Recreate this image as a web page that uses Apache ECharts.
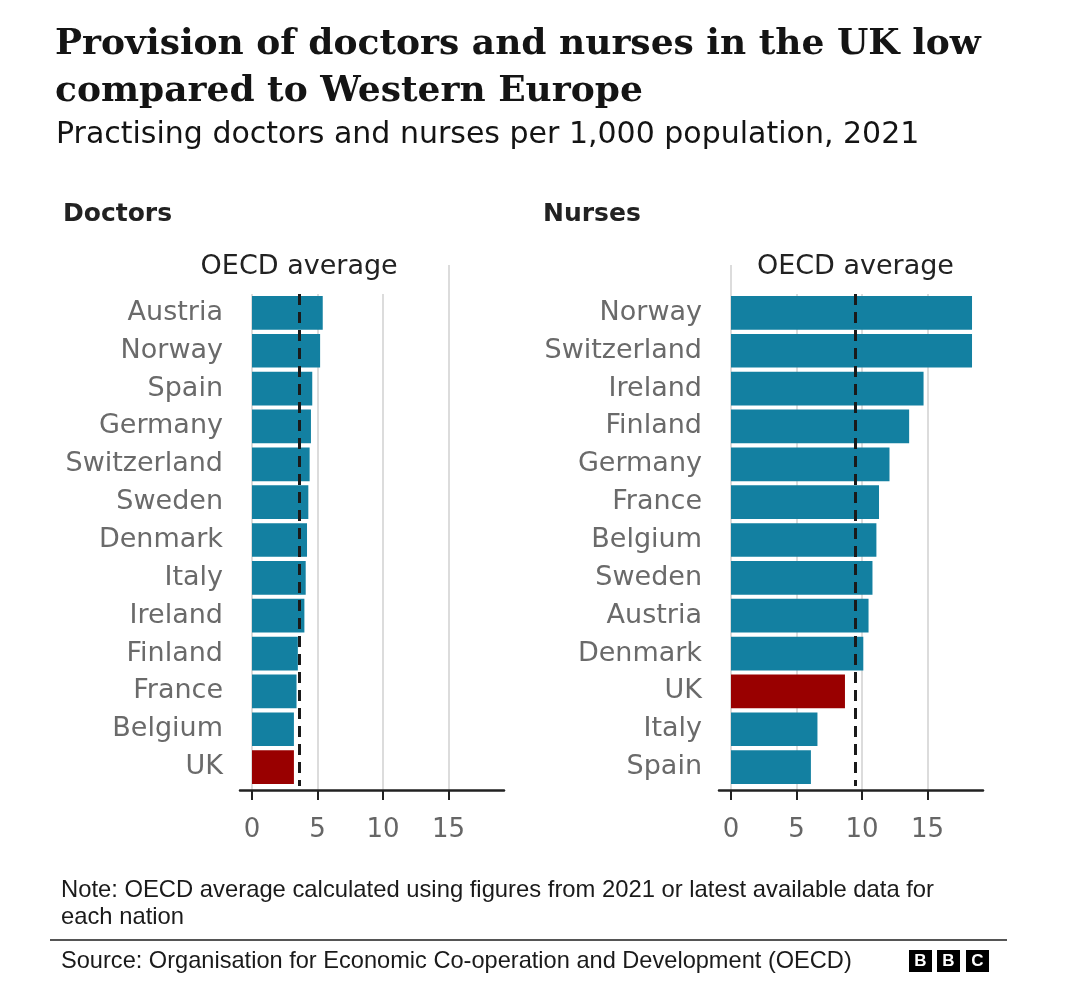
<!DOCTYPE html>
<html>
<head>
<meta charset="utf-8">
<script src="https://cdn.jsdelivr.net/npm/echarts@6/dist/echarts.min.js"></script>
<style>
html,body{margin:0;padding:0;background:#fff;}
#chart{width:1080px;height:988px;}
</style>
</head>
<body>
<div id="chart"></div>
<script>
const doctorsCountries = ['Austria','Norway','Spain','Germany','Switzerland','Sweden','Denmark','Italy','Ireland','Finland','France','Belgium','UK'];
const doctorsValues = [5.4,5.2,4.6,4.5,4.4,4.3,4.2,4.1,4.0,3.5,3.4,3.2,3.2];
const nursesCountries = ['Norway','Switzerland','Ireland','Finland','Germany','France','Belgium','Sweden','Austria','Denmark','UK','Italy','Spain'];
const nursesValues = [18.4,18.4,14.7,13.6,12.1,11.3,11.1,10.8,10.5,10.1,8.7,6.6,6.1];
const oecdDoctors = 3.6;
const oecdNurses = 9.5;
const axisMax = 19.2;
const tickStep = 5;

const TEAL = '#1380A1', RED = '#990000';
const SANS = 'DejaVu Sans';

const chart = echarts.init(document.getElementById('chart'));

function panel(idx, left, countries, values, avg) {
  const g0 = idx * 3;
  const grids = [
    {left: left, top: 294, width: 251.5, height: 492},
    {left: left, top: 265, width: 251.5, height: 525},
    {left: left - 12, top: 789, width: 264, height: 1}
  ];
  const xAxes = [
    {gridIndex: g0, type: 'value', min: 0, max: axisMax, show: false},
    {gridIndex: g0 + 1, type: 'value', min: 0, max: axisMax, interval: tickStep,
      axisLine: {show: false},
      axisTick: {show: true, length: 10, lineStyle: {color: '#222', width: 2}},
      axisLabel: {show: true, margin: 27, color: '#666', fontSize: 26, fontFamily: SANS,
        showMaxLabel: false},
      splitLine: {show: true, showMaxLine: false, lineStyle: {color: '#dcdcdc', width: 2}}},
    {gridIndex: g0 + 2, type: 'value', min: 0, max: 1,
      axisLine: {show: true, onZero: false, lineStyle: {color: '#222', width: 2.5}},
      axisTick: {show: false}, axisLabel: {show: false}, splitLine: {show: false}}
  ];
  const yAxes = [
    {gridIndex: g0, type: 'category', data: countries, inverse: true,
      axisLine: {show: false}, axisTick: {show: false},
      axisLabel: {color: '#6a6a6a', fontSize: 27, fontFamily: SANS, margin: 29}},
    {gridIndex: g0 + 1, type: 'value', show: false},
    {gridIndex: g0 + 2, type: 'value', show: false}
  ];
  const series = [{
    type: 'bar', xAxisIndex: g0, yAxisIndex: g0,
    data: values.map((v, i) => ({value: v, itemStyle: {color: countries[i] === 'UK' ? RED : TEAL}})),
    barCategoryGap: '11%',
    silent: true,
    markLine: {
      silent: true, symbol: 'none',
      lineStyle: {color: '#1a1a1a', width: 3, type: [11, 7]},
      label: {show: true, position: 'start', formatter: 'OECD average',
        color: '#222', fontSize: 27, fontFamily: SANS,
        backgroundColor: '#fff', padding: [6, 6, 14, 6], distance: 0},
      data: [{xAxis: avg}]
    }
  }];
  return {grids, xAxes, yAxes, series};
}

const p1 = panel(0, 252, doctorsCountries, doctorsValues, oecdDoctors);
const p2 = panel(1, 731, nursesCountries, nursesValues, oecdNurses);

const option = {
  backgroundColor: '#fff',
  animation: false,
  title: [
    {text: 'Provision of doctors and nurses in the UK low\ncompared to Western Europe', left: 50, top: 16,
      textStyle: {fontFamily: 'DejaVu Serif', fontWeight: 'bold', fontSize: 36, color: '#141414', lineHeight: 47}},
    {text: 'Practising doctors and nurses per 1,000 population, 2021', left: 51, top: 115,
      textStyle: {fontFamily: SANS, fontWeight: 'normal', fontSize: 30, color: '#141414'}},
    {text: 'Doctors', left: 58, top: 197, textStyle: {fontFamily: SANS, fontWeight: 'bold', fontSize: 25, color: '#222'}},
    {text: 'Nurses', left: 538, top: 197, textStyle: {fontFamily: SANS, fontWeight: 'bold', fontSize: 25, color: '#222'}},
    {text: 'Note: OECD average calculated using figures from 2021 or latest available data for\neach nation', left: 56, top: 872,
      textStyle: {fontFamily: 'Liberation Sans', fontWeight: 'normal', fontSize: 23.8, color: '#1a1a1a', lineHeight: 27}},
    {text: 'Source: Organisation for Economic Co-operation and Development (OECD)', left: 56, top: 944,
      textStyle: {fontFamily: 'Liberation Sans', fontWeight: 'normal', fontSize: 23.6, color: '#1a1a1a'}}
  ],
  grid: [...p1.grids, ...p2.grids],
  xAxis: [...p1.xAxes, ...p2.xAxes],
  yAxis: [...p1.yAxes, ...p2.yAxes],
  series: [...p1.series, ...p2.series],
  graphic: [
    {type: 'line', shape: {x1: 50, y1: 940, x2: 1007, y2: 940}, style: {stroke: '#555', lineWidth: 2}},
    {type: 'group', left: 909, top: 950, children: [
      {type: 'rect', shape: {x: 0, y: 0, width: 23, height: 22}, style: {fill: '#000'}},
      {type: 'text', x: 11.5, y: 11.5, style: {text: 'B', fill: '#fff', font: 'bold 17px Liberation Sans', align: 'center', verticalAlign: 'middle'}},
      {type: 'rect', shape: {x: 28, y: 0, width: 23, height: 22}, style: {fill: '#000'}},
      {type: 'text', x: 39.5, y: 11.5, style: {text: 'B', fill: '#fff', font: 'bold 17px Liberation Sans', align: 'center', verticalAlign: 'middle'}},
      {type: 'rect', shape: {x: 57, y: 0, width: 23, height: 22}, style: {fill: '#000'}},
      {type: 'text', x: 68.5, y: 11.5, style: {text: 'C', fill: '#fff', font: 'bold 17px Liberation Sans', align: 'center', verticalAlign: 'middle'}}
    ]}
  ]
};
chart.setOption(option);
</script>
</body>
</html>
